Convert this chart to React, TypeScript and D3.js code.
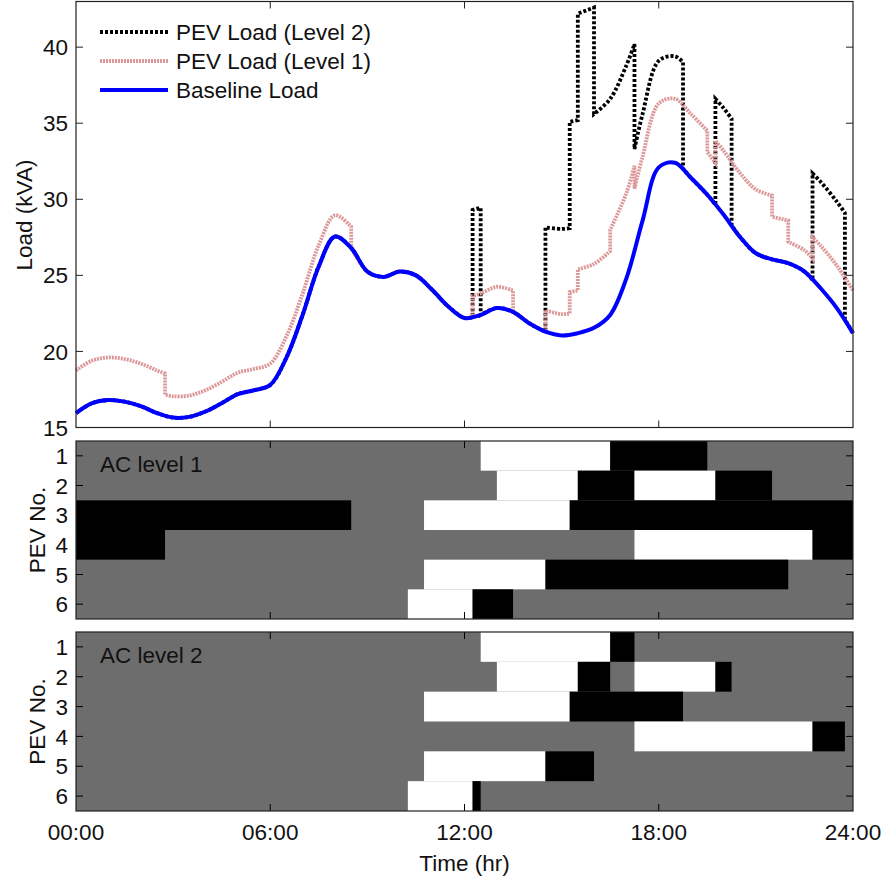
import React from 'react';
import * as d3 from 'd3';

// baseline load, read every half hour (kVA)
const baseHours = [0, 0.5, 1, 1.5, 2, 2.5, 3, 3.5, 4, 4.5, 5, 5.5, 6, 6.5, 7, 7.5, 8, 8.5, 9, 9.5, 10, 10.5, 11, 11.5, 12,
  12.5, 13, 13.5, 14, 14.5, 15, 15.5, 16, 16.5, 17, 17.5, 18, 18.5, 19, 19.5, 20, 20.5, 21, 21.5, 22, 22.5, 23, 23.5, 24];
const baseLoad = [15.95, 16.6, 16.8, 16.7, 16.4, 15.95, 15.65, 15.7, 16.05, 16.6, 17.2, 17.45, 17.8, 19.6, 22.4, 25.6, 27.55,
  26.8, 25.25, 24.9, 25.25, 25.0, 24.05, 22.95, 22.2, 22.4, 22.85, 22.6, 21.85, 21.3, 21.05, 21.2, 21.55, 22.4, 24.8, 28.6,
  32.1, 32.4, 31.4, 30.3, 29.0, 27.55, 26.45, 26.05, 25.8, 25.25, 24.15, 22.85, 21.2];

// PEV load with level 1 chargers (a repeated hour = a step)
const l1Hours = [0, 0.5, 1, 1.5, 2, 2.5, 2.75, 2.75, 3, 3.5, 4, 4.5, 5, 5.5, 6, 6.5, 7, 7.5, 8, 8.5, 8.5, 9, 9.5, 10, 10.5,
  11, 11.5, 12, 12.25, 12.25, 12.5, 13, 13.5, 13.5, 14, 14.5, 14.5, 15, 15.25, 15.25, 15.5, 15.5, 16, 16.5, 16.5, 17, 17.25,
  17.25, 17.5, 18, 18.5, 19, 19.5, 19.5, 19.75, 19.75, 20, 20.5, 21, 21.5, 21.5, 22, 22, 22.5, 22.75, 22.75, 23, 23.5, 24];
const l1Load = [18.75, 19.4, 19.6, 19.5, 19.2, 18.75, 18.55, 17.15, 17.05, 17.1, 17.45, 18.0, 18.6, 18.85, 19.2, 21.0, 23.8,
  27.0, 28.95, 28.2, 26.8, 25.25, 24.9, 25.25, 25.0, 24.05, 22.95, 22.2, 22.25, 23.65, 23.8, 24.25, 24.0, 22.6, 21.85, 21.3,
  22.7, 22.45, 22.5, 23.9, 24.0, 25.4, 25.75, 26.6, 28.0, 30.4, 32.2, 30.7, 32.8, 36.3, 36.6, 35.6, 34.5, 33.1, 32.4, 33.85,
  33.2, 31.75, 30.65, 30.25, 28.85, 28.6, 27.2, 26.65, 26.1, 27.5, 26.95, 25.65, 24.0];

// PEV load with level 2 chargers
const l2Hours = [0, 0.5, 1, 1.5, 2, 2.5, 3, 3.5, 4, 4.5, 5, 5.5, 6, 6.5, 7, 7.5, 8, 8.5, 9, 9.5, 10, 10.5, 11, 11.5, 12,
  12.25, 12.25, 12.5, 12.5, 13, 13.5, 14, 14.5, 14.5, 15, 15.25, 15.25, 15.5, 15.5, 16, 16, 16.5, 17, 17.25, 17.25, 17.5, 18,
  18.5, 18.75, 18.75, 19, 19.5, 19.75, 19.75, 20, 20.25, 20.25, 20.5, 21, 21.5, 22, 22.5, 22.75, 22.75, 23, 23.5, 23.75, 23.75, 24];
const l2Load = [15.95, 16.6, 16.8, 16.7, 16.4, 15.95, 15.65, 15.7, 16.05, 16.6, 17.2, 17.45, 17.8, 19.6, 22.4, 25.6, 27.55,
  26.8, 25.25, 24.9, 25.25, 25.0, 24.05, 22.95, 22.2, 22.25, 29.3, 29.45, 22.4, 22.85, 22.6, 21.85, 21.3, 28.15, 28.05, 28.1,
  35.1, 35.2, 42.2, 42.6, 35.6, 36.6, 38.8, 40.2, 33.3, 35.6, 39.1, 39.4, 39.0, 32.0, 31.4, 30.3, 29.65, 36.6, 36.0, 35.3,
  28.3, 27.55, 26.45, 26.05, 25.8, 25.25, 24.7, 31.7, 31.15, 29.85, 29.1, 22.1, 21.2];

const pevNumbers = [1, 2, 3, 4, 5, 6];
// schedules: [pev, start hr, end hr, state]  state 1 = plugged in (white), 2 = charging (black)
const level1Schedule = [
  [1, 12.5, 16.5, 1], [1, 16.5, 19.5, 2],
  [2, 13, 15.5, 1], [2, 15.5, 17.25, 2], [2, 17.25, 19.75, 1], [2, 19.75, 21.5, 2],
  [3, 0, 8.5, 2], [3, 10.75, 15.25, 1], [3, 15.25, 24, 2],
  [4, 0, 2.75, 2], [4, 17.25, 22.75, 1], [4, 22.75, 24, 2],
  [5, 10.75, 14.5, 1], [5, 14.5, 22, 2],
  [6, 10.25, 12.25, 1], [6, 12.25, 13.5, 2],
];
const level2Schedule = [
  [1, 12.5, 16.5, 1], [1, 16.5, 17.25, 2],
  [2, 13, 15.5, 1], [2, 15.5, 16.5, 2], [2, 17.25, 19.75, 1], [2, 19.75, 20.25, 2],
  [3, 10.75, 15.25, 1], [3, 15.25, 18.75, 2],
  [4, 17.25, 22.75, 1], [4, 22.75, 23.75, 2],
  [5, 10.75, 14.5, 1], [5, 14.5, 16, 2],
  [6, 10.25, 12.25, 1], [6, 12.25, 12.5, 2],
];

const loadTicks = [15, 20, 25, 30, 35, 40];
const timeTicks = [0, 6, 12, 18, 24];
const timeLabels = ['00:00', '06:00', '12:00', '18:00', '24:00'];

const FONT = '"Liberation Sans", Arial, Helvetica, sans-serif';
const FS = 22.5;
const GRAY = '#6d6d6d';
const L = 76, R = 853;

const x = d3.scaleLinear().domain([0, 24]).range([L, R]);
const yLoad = d3.scaleLinear().domain([15, 43]).range([427.5, 1.5]);

// smooth pieces between steps, joined by vertical jumps
function steppedPath(hrs: number[], vals: number[]) {
  const line = d3.line<number[]>()
    .x(d => x(d[0]))
    .y(d => yLoad(d[1]))
    .curve(d3.curveCatmullRom.alpha(0.5));
  const segs: number[][][] = [];
  let cur: number[][] = [];
  hrs.forEach((h, i) => {
    if (cur.length && h === cur[cur.length - 1][0]) { segs.push(cur); cur = []; }
    cur.push([h, vals[i]]);
  });
  segs.push(cur);
  return segs.map((s, i) => {
    const d = line(s) || '';
    return i === 0 ? d : 'L' + d.slice(1);
  }).join('');
}

const SchedulePanel = ({ schedule, top, bottom, label }) => {
  const yRow = d3.scaleBand<number>().domain(pevNumbers).range([top, bottom]);
  return (
    <g>
      <rect x={L} y={top} width={R - L} height={bottom - top} fill={GRAY} />
      {schedule.map((s, i) => (
        <rect key={i} x={x(s[1])} y={yRow(s[0])} width={x(s[2]) - x(s[1])} height={yRow.bandwidth()}
          fill={s[3] === 2 ? '#000' : '#fff'} />
      ))}
      {pevNumbers.map(p => {
        const cy = (yRow(p) || 0) + yRow.bandwidth() / 2;
        return (
          <g key={p}>
            <line x1={L} x2={L + 7} y1={cy} y2={cy} stroke="#000" />
            <line x1={R} x2={R - 7} y1={cy} y2={cy} stroke="#000" />
            <text x={68} y={cy} dy="0.36em" textAnchor="end" fontSize={FS}>{p}</text>
          </g>
        );
      })}
      {[6, 12, 18].map(t => (
        <g key={t}>
          <line x1={x(t)} x2={x(t)} y1={top} y2={top + 7} stroke="#000" />
          <line x1={x(t)} x2={x(t)} y1={bottom} y2={bottom - 7} stroke="#000" />
        </g>
      ))}
      <text x={100} y={top + 31} fontSize={FS}>{label}</text>
      <rect x={L} y={top} width={R - L} height={bottom - top} fill="none" stroke="#222" strokeWidth={1.2} />
      <text transform={`translate(45,${(top + bottom) / 2}) rotate(-90)`} textAnchor="middle" fontSize={FS}>PEV No.</text>
    </g>
  );
};

export default function App() {
  const legend = [
    { name: 'PEV Load (Level 2)', stroke: '#000', dash: '3 2', w: 3.8 },
    { name: 'PEV Load (Level 1)', stroke: '#dc9898', dash: '2 1', w: 3.8 },
    { name: 'Baseline Load', stroke: '#0000ff', dash: null, w: 4 },
  ];
  return (
    <svg width={884} height={882} style={{ position: 'absolute', left: 0, top: 0, background: '#fff' }}
      fontFamily={FONT} fill="#111">
      {/* load panel */}
      <path d={steppedPath(l2Hours, l2Load)} fill="none" stroke="#000" strokeWidth={3.8} strokeDasharray="3 2" />
      <path d={steppedPath(l1Hours, l1Load)} fill="none" stroke="#dc9898" strokeWidth={3.8} strokeDasharray="2 1" />
      <path d={steppedPath(baseHours, baseLoad)} fill="none" stroke="#0000ff" strokeWidth={4} />
      <rect x={L} y={1.5} width={R - L} height={426} fill="none" stroke="#222" strokeWidth={1.2} />
      {loadTicks.map(t => (
        <g key={t}>
          <line x1={L} x2={L + 7} y1={yLoad(t)} y2={yLoad(t)} stroke="#222" />
          <line x1={R} x2={R - 7} y1={yLoad(t)} y2={yLoad(t)} stroke="#222" />
          <text x={68} y={yLoad(t)} dy="0.36em" textAnchor="end" fontSize={FS}>{t}</text>
        </g>
      ))}
      {[6, 12, 18].map(t => (
        <g key={t}>
          <line x1={x(t)} x2={x(t)} y1={1.5} y2={8.5} stroke="#222" />
          <line x1={x(t)} x2={x(t)} y1={427.5} y2={420.5} stroke="#222" />
        </g>
      ))}
      <text transform="translate(32,215) rotate(-90)" textAnchor="middle" fontSize={FS}>Load (kVA)</text>
      {legend.map((d, i) => (
        <g key={d.name} transform={`translate(0,${32 + i * 29})`}>
          <line x1={100} x2={168} y1={0} y2={0} stroke={d.stroke} strokeWidth={d.w}
            strokeDasharray={d.dash || undefined} />
          <text x={176} y={0} dy="0.36em" fontSize={FS}>{d.name}</text>
        </g>
      ))}

      <SchedulePanel schedule={level1Schedule} top={441} bottom={619} label="AC level 1" />
      <SchedulePanel schedule={level2Schedule} top={632} bottom={811} label="AC level 2" />

      {timeTicks.map((t, i) => (
        <text key={t} x={x(t)} y={840} textAnchor="middle" fontSize={FS}>{timeLabels[i]}</text>
      ))}
      <text x={x(12)} y={871} textAnchor="middle" fontSize={FS}>Time (hr)</text>
    </svg>
  );
}
